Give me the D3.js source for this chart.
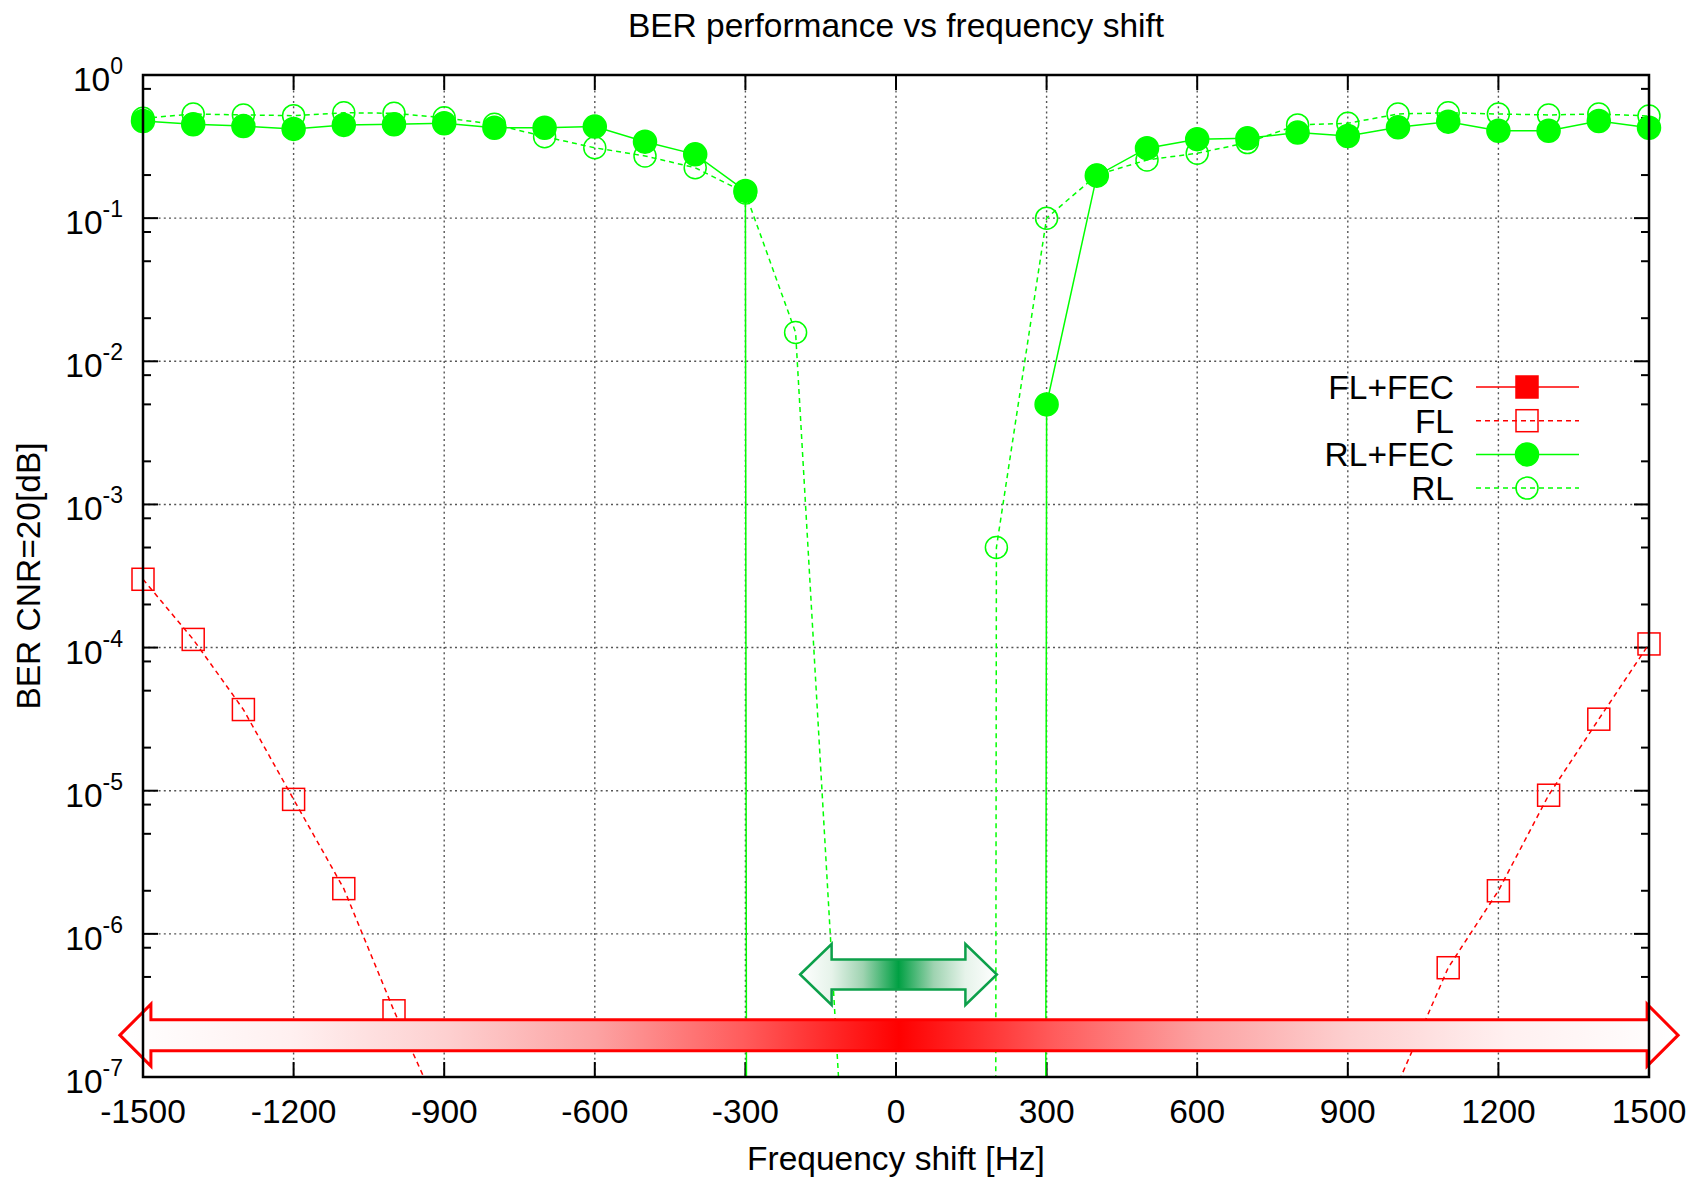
<!DOCTYPE html>
<html>
<head>
<meta charset="utf-8">
<script src="https://cdn.jsdelivr.net/npm/d3@7"></script>
<style>
	body { margin: 0; background: #fff; }
	text { font-family: "Liberation Sans", Arial, sans-serif; fill: #000; }
</style>
</head>
<body>
<div id="ber-chart"></div>
<script>
// frequency shift [Hz] of each measurement
const freqs = [-1500, -1400, -1300, -1200, -1100, -1000, -900, -800, -700, -600, -500, -400, -300, -200, -100,
	0, 100, 200, 300, 400, 500, 600, 700, 800, 900, 1000, 1100, 1200, 1300, 1400, 1500];

// BER values, 0 = no error measured
const flFec = [0, 0, 0, 0, 0, 0, 0, 0, 0, 0, 0, 0, 0, 0, 0,
	0, 0, 0, 0, 0, 0, 0, 0, 0, 0, 0, 0, 0, 0, 0, 0];
const fl = [3.0e-4, 1.14e-4, 3.69e-5, 8.7e-6, 2.07e-6, 2.9e-7, 4.8e-8, 0, 0, 0, 0, 0, 0, 0, 0,
	0, 0, 0, 0, 0, 0, 0, 0, 0, 0, 9e-8, 5.8e-7, 2.0e-6, 9.3e-6, 3.16e-5, 1.06e-4];
const rlFec = [0.477, 0.452, 0.44, 0.42, 0.448, 0.452, 0.46, 0.428, 0.428, 0.436, 0.342, 0.279, 0.155, 0, 0,
	0, 0, 0, 5.0e-3, 0.198, 0.308, 0.356, 0.361, 0.396, 0.375, 0.431, 0.472, 0.408, 0.408, 0.477, 0.428];
const rl = [0.498, 0.534, 0.526, 0.52, 0.545, 0.54, 0.503, 0.452, 0.371, 0.31, 0.272, 0.225, 0.15, 0.0159, 1.3e-8,
	0, 0, 5.0e-4, 0.1, 0.2, 0.255, 0.284, 0.337, 0.448, 0.46, 0.534, 0.545, 0.534, 0.526, 0.534, 0.517];

const seriesNames = ["FL+FEC", "FL", "RL+FEC", "RL"];
const xTicks = [-1500, -1200, -900, -600, -300, 0, 300, 600, 900, 1200, 1500];
const yExponents = [0, -1, -2, -3, -4, -5, -6, -7];
const minorMultipliers = [2, 5, 8];

// arrow annotations, in Hz and BER
const redArrowSpan = [-1546, 1558], redArrowLevel = 1.96e-7;
const greenArrowSpan = [-191, 201], greenArrowLevel = 5.2e-7;

function initBerChart() {
	const W = 1694, H = 1179;
	const margin = {top: 75, right: 45, bottom: 102, left: 143};
	const width = W - margin.left - margin.right,
		height = H - margin.top - margin.bottom;
	const fontSize = "33.5px";

	const root = d3.select("#ber-chart")
		.append("svg")
			.attr("width", W)
			.attr("height", H);
	root.append("rect").attr("width", W).attr("height", H).attr("fill", "#fff");

	const svg = root.append("g")
		.attr("transform", `translate(${margin.left},${margin.top})`);

	const x = d3.scaleLinear().domain([-1500, 1500]).range([0, width]);
	const y = d3.scaleLog().domain([1e-7, 1]).range([height, 0]);
	const floor = 1e-300; // where "no error" points are plotted (far below the axis)

	const defs = root.append("defs");
	defs.append("clipPath").attr("id", "plot-clip")
		.append("rect").attr("width", width).attr("height", height);

	// grid
	const grid = svg.append("g")
		.attr("stroke", "#555")
		.attr("stroke-width", 1.4)
		.attr("stroke-dasharray", "2,3.2");
	grid.selectAll("line.v")
		.data(xTicks.slice(1, -1))
		.join("line")
			.attr("x1", d => x(d)).attr("x2", d => x(d))
			.attr("y1", 0).attr("y2", height);
	grid.selectAll("line.h")
		.data(yExponents.slice(1, -1))
		.join("line")
			.attr("class", "h")
			.attr("x1", 0).attr("x2", width)
			.attr("y1", d => y(Math.pow(10, d))).attr("y2", d => y(Math.pow(10, d)));

	// axes: ticks inside on all four sides
	const axes = svg.append("g").attr("stroke", "#000").attr("stroke-width", 2);
	xTicks.forEach(t => {
		axes.append("line").attr("x1", x(t)).attr("x2", x(t)).attr("y1", height).attr("y2", height - 15);
		axes.append("line").attr("x1", x(t)).attr("x2", x(t)).attr("y1", 0).attr("y2", 15);
	});
	const yMinor = [];
	yExponents.slice(1).forEach(e => minorMultipliers.forEach(m => yMinor.push(m * Math.pow(10, e))));
	yExponents.forEach(e => {
		const yy = y(Math.pow(10, e));
		axes.append("line").attr("x1", 0).attr("x2", 15).attr("y1", yy).attr("y2", yy);
		axes.append("line").attr("x1", width).attr("x2", width - 15).attr("y1", yy).attr("y2", yy);
	});
	yMinor.forEach(v => {
		const yy = y(v);
		axes.append("line").attr("x1", 0).attr("x2", 8).attr("y1", yy).attr("y2", yy);
		axes.append("line").attr("x1", width).attr("x2", width - 8).attr("y1", yy).attr("y2", yy);
	});

	// tick labels
	svg.append("g").selectAll("text")
		.data(xTicks)
		.join("text")
			.attr("x", d => x(d))
			.attr("y", height + 46)
			.attr("text-anchor", "middle")
			.style("font-size", fontSize)
			.text(d => d);
	const yl = svg.append("g").selectAll("text")
		.data(yExponents)
		.join("text")
			.attr("x", -20)
			.attr("y", d => y(Math.pow(10, d)) + 16)
			.attr("text-anchor", "end")
			.style("font-size", fontSize)
			.text("10");
	yl.append("tspan")
		.attr("dy", -17)
		.style("font-size", "23px")
		.text(d => d);

	// series
	const series = [
		{name: seriesNames[0], values: flFec, color: "#ff0000", dash: null, marker: "square", filled: true},
		{name: seriesNames[1], values: fl, color: "#ff0000", dash: "5,4", marker: "square", filled: false},
		{name: seriesNames[2], values: rlFec, color: "#00ff00", dash: null, marker: "circle", filled: true},
		{name: seriesNames[3], values: rl, color: "#00ff00", dash: "5,4", marker: "circle", filled: false}
	];
	const line = d3.line()
		.x(d => x(d.f))
		.y(d => y(d.v > 0 ? d.v : floor));

	const drawMarker = (g, s, cx, cy) => {
		if (s.marker === "square") {
			g.append("rect")
				.attr("x", cx - 11).attr("y", cy - 11)
				.attr("width", 22).attr("height", 22)
				.attr("fill", s.filled ? s.color : "none")
				.attr("stroke", s.color)
				.attr("stroke-width", 1.5);
		} else {
			g.append("circle")
				.attr("cx", cx).attr("cy", cy).attr("r", s.filled ? 11.5 : 11)
				.attr("fill", s.filled ? s.color : "none")
				.attr("stroke", s.color)
				.attr("stroke-width", 1.5);
		}
	};

	series.forEach(s => {
		const pts = freqs.map((f, i) => ({f: f, v: s.values[i]}));
		svg.append("path")
			.datum(pts)
			.attr("clip-path", "url(#plot-clip)")
			.attr("fill", "none")
			.attr("stroke", s.color)
			.attr("stroke-width", 1.5)
			.attr("stroke-dasharray", s.dash)
			.attr("d", line);
		const g = svg.append("g");
		pts.filter(d => d.v >= 1e-7 && d.v <= 1)
			.forEach(d => drawMarker(g, s, x(d.f), y(d.v)));
	});

	// double arrows with gradient fill
	const arrow = (id, span, level, sh, hh, hl, stops, stroke, sw) => {
		const x0 = x(span[0]), x1 = x(span[1]), cy = y(level);
		const grad = defs.append("linearGradient")
			.attr("id", id)
			.attr("gradientUnits", "userSpaceOnUse")
			.attr("x1", x0).attr("x2", x1).attr("y1", 0).attr("y2", 0);
		grad.selectAll("stop")
			.data(stops)
			.join("stop")
				.attr("offset", d => d[0])
				.attr("stop-color", d => d[1]);
		const p = d3.path();
		p.moveTo(x0, cy);
		p.lineTo(x0 + hl, cy - hh);
		p.lineTo(x0 + hl, cy - sh);
		p.lineTo(x1 - hl, cy - sh);
		p.lineTo(x1 - hl, cy - hh);
		p.lineTo(x1, cy);
		p.lineTo(x1 - hl, cy + hh);
		p.lineTo(x1 - hl, cy + sh);
		p.lineTo(x0 + hl, cy + sh);
		p.lineTo(x0 + hl, cy + hh);
		p.closePath();
		svg.append("path")
			.attr("d", p.toString())
			.attr("fill", `url(#${id})`)
			.attr("stroke", stroke)
			.attr("stroke-width", sw)
			.attr("stroke-linejoin", "miter");
	};
	arrow("red-grad", redArrowSpan, redArrowLevel, 15.5, 31, 31,
		[[0, "#ffffff"], [0.11, "#fff0f0"], [0.21, "#fdd0d0"], [0.305, "#fca3a3"], [0.4, "#ff5c5c"], [0.5, "#ff0000"],
		 [0.6, "#ff5c5c"], [0.695, "#fca3a3"], [0.79, "#fdd0d0"], [0.89, "#fff0f0"], [1, "#ffffff"]],
		"#ff0000", 3);
	arrow("green-grad", greenArrowSpan, greenArrowLevel, 15, 30.5, 31.5,
		[[0, "#ffffff"], [0.16, "#e6f3ea"], [0.32, "#9fd3b1"], [0.5, "#00a043"],
		 [0.68, "#9fd3b1"], [0.84, "#e6f3ea"], [1, "#ffffff"]],
		"#0ca04a", 2.5);

	// border
	svg.append("rect")
		.attr("width", width).attr("height", height)
		.attr("fill", "none")
		.attr("stroke", "#000")
		.attr("stroke-width", 2.5);

	// legend
	const legend = svg.append("g");
	series.forEach((s, i) => {
		const cy = 387 - margin.top + i * 33.7;
		legend.append("text")
			.attr("x", 1454 - margin.left)
			.attr("y", cy + 12)
			.attr("text-anchor", "end")
			.style("font-size", fontSize)
			.text(s.name);
		legend.append("line")
			.attr("x1", 1476 - margin.left).attr("x2", 1579 - margin.left)
			.attr("y1", cy).attr("y2", cy)
			.attr("stroke", s.color)
			.attr("stroke-width", 1.5)
			.attr("stroke-dasharray", s.dash);
		drawMarker(legend, s, 1527 - margin.left, cy);
	});

	// titles
	root.append("text")
		.attr("x", margin.left + width / 2)
		.attr("y", 37)
		.attr("text-anchor", "middle")
		.style("font-size", fontSize)
		.text("BER performance vs frequency shift");
	root.append("text")
		.attr("x", margin.left + width / 2)
		.attr("y", 1170)
		.attr("text-anchor", "middle")
		.style("font-size", fontSize)
		.text("Frequency shift [Hz]");
	root.append("text")
		.attr("transform", `translate(40,${margin.top + height / 2}) rotate(-90)`)
		.attr("text-anchor", "middle")
		.style("font-size", fontSize)
		.text("BER CNR=20[dB]");
}

initBerChart();
</script>
</body>
</html>
